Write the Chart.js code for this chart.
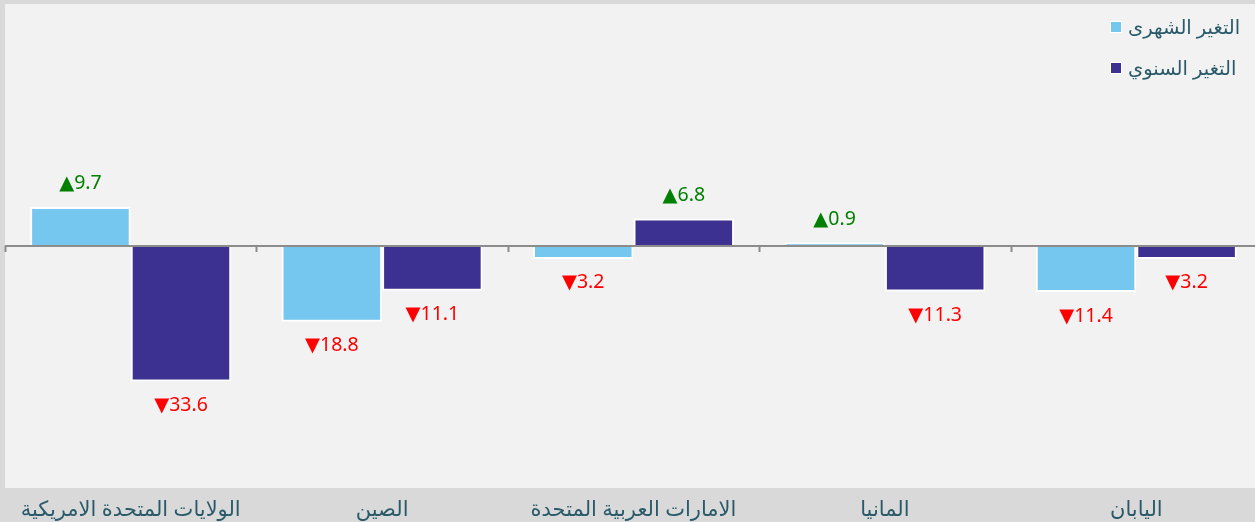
<!doctype html>
<html lang="ar">
<head>
  <meta charset="utf-8" />
  <title>التغير الشهري والسنوي</title>
  <style>
    *{box-sizing:border-box}
    body{margin:0; background:#d9d9d9; overflow:hidden; font-family:"Noto Sans","DejaVu Sans",sans-serif}
    .wrap{position:relative; width:1262px; height:522px}
    .legend{position:absolute; top:6px; left:1110px; color:#2a5a6a; font-size:19.5px; line-height:41px}
    .legend div{display:flex; align-items:center; gap:6px; white-space:nowrap}
    .sw{width:12px; height:12px; border:1.5px solid #fff; display:inline-block}
  </style>
  <script src="https://cdn.jsdelivr.net/npm/chart.js@4.4.1/dist/chart.umd.min.js"></script>
</head>
<body>
<div class="wrap">
  <canvas id="c"></canvas>
  <div class="legend">
    <div><span class="sw" style="background:#75c7f0"></span><span>التغير الشهرى</span></div>
    <div><span class="sw" style="background:#3c3190"></span><span>التغير السنوي</span></div>
  </div>
</div>
<script>
const categories = ["الولايات المتحدة الامريكية", "الصين", "الامارات العربية المتحدة", "المانيا", "اليابان"];
const monthly = [9.7, -18.8, -3.2, 0.9, -11.4];
const yearly = [-33.6, -11.1, 6.8, -11.3, -3.2];
const seriesNames = ["التغير الشهرى", "التغير السنوي"];

// backgrounds, zero line with boundary ticks
const frame = {
  id: "frame",
  beforeDraw(chart) {
    const { ctx, chartArea: a } = chart;
    ctx.save();
    ctx.fillStyle = "#d9d9d9";
    ctx.fillRect(0, 0, chart.width, chart.height);
    ctx.fillStyle = "#f2f2f2";
    ctx.fillRect(a.left, a.top, a.right - a.left, a.bottom - a.top);
    ctx.restore();
  },
  afterDatasetsDraw(chart) {
    const { ctx, chartArea: a, scales: { y } } = chart;
    const y0 = y.getPixelForValue(0);
    const step = (a.right - a.left) / categories.length;
    ctx.save();
    ctx.strokeStyle = "#8c8c8c";
    ctx.lineWidth = 2;
    ctx.beginPath();
    ctx.moveTo(a.left, y0); ctx.lineTo(a.right, y0);
    for (let i = 0; i <= categories.length; i++) {
      const px = Math.round(a.left + i * step) + 0.5;
      ctx.moveTo(px, y0); ctx.lineTo(px, y0 + 6);
    }
    ctx.stroke();
    ctx.restore();
  }
};

// ▲ / ▼ value labels
const valueLabels = {
  id: "valueLabels",
  afterDatasetsDraw(chart) {
    const { ctx } = chart;
    ctx.save();
    ctx.font = '19.5px "Noto Sans","DejaVu Sans",sans-serif';
    ctx.textAlign = "center";
    ctx.textBaseline = "middle";
    chart.data.datasets.forEach((ds, di) => {
      chart.getDatasetMeta(di).data.forEach((bar, i) => {
        const v = ds.data[i];
        if (v >= 0) {
          ctx.fillStyle = "#008000";
          ctx.fillText("▲" + v.toFixed(1), bar.x, bar.y - 23);
        } else {
          ctx.fillStyle = "#ff0000";
          ctx.fillText("▼" + Math.abs(v).toFixed(1), bar.x, bar.y + 24);
        }
      });
    });
    ctx.restore();
  }
};

new Chart(document.getElementById("c"), {
  type: "bar",
  data: {
    labels: categories,
    datasets: [
      { label: seriesNames[0], data: monthly, backgroundColor: "#75c7f0", borderColor: "#ffffff", borderWidth: 2 },
      { label: seriesNames[1], data: yearly, backgroundColor: "#3c3190", borderColor: "#ffffff", borderWidth: 2 }
    ]
  },
  options: {
    responsive: true,
    maintainAspectRatio: false,
    animation: false,
    layout: { padding: { left: 5, top: 4, right: 0, bottom: 0 } },
    datasets: { bar: { categoryPercentage: 0.8, barPercentage: 1.0 } },
    plugins: { legend: { display: false }, tooltip: { enabled: false } },
    scales: {
      y: { display: false, min: -60, max: 60 },
      x: {
        grid: { display: false, drawTicks: false },
        border: { display: false },
        afterFit: s => { s.height = 34; },
        ticks: { padding: 9, color: "#2a5a6a", font: { family: '"Noto Sans","DejaVu Sans",sans-serif', size: 21 } }
      }
    }
  },
  plugins: [frame, valueLabels]
});
</script>
</body>
</html>
